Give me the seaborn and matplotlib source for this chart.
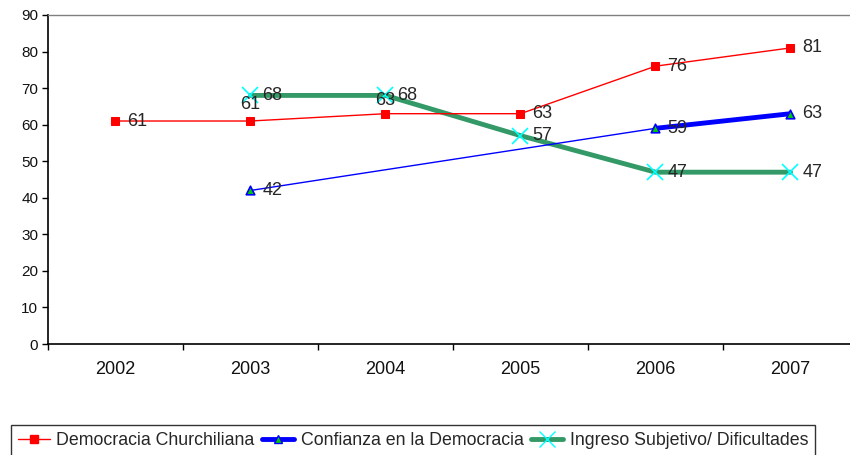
import numpy as np
import pandas as pd
import matplotlib
matplotlib.use("Agg")
import matplotlib.pyplot as plt
import seaborn as sns
from matplotlib.lines import Line2D

years = ["2002", "2003", "2004", "2005", "2006", "2007"]
churchiliana = [61, 61, 63, 63, 76, 81]
confianza = [np.nan, 42, np.nan, np.nan, 59, 63]
ingreso = [np.nan, 68, 68, 57, 47, 47]

names = ["Democracia Churchiliana", "Confianza en la Democracia",
         "Ingreso Subjetivo/ Dificultades"]

sns.set_theme(style="white")
plt.rcParams["font.family"] = ["Liberation Sans", "DejaVu Sans"]

W, H = 850, 455
fig = plt.figure(figsize=(W / 100, H / 100), dpi=100)
ax = fig.add_axes([48 / W, (H - 344) / H, 810 / W, 329 / H])

x = np.arange(len(years))
df = pd.DataFrame({"x": x, "churchiliana": churchiliana,
                   "confianza": confianza, "ingreso": ingreso})

RED = "#ff0000"
BLUE = "#0000ff"
GREEN = "#339966"
CYAN = "#00ffff"
LIME = "#00cc00"

# Ingreso Subjetivo (thick green line, cyan crosses)
d = df.dropna(subset=["ingreso"])
sns.lineplot(data=d, x="x", y="ingreso", ax=ax, color=GREEN, lw=3.5,
             marker="x", markersize=11, markeredgecolor=CYAN,
             markeredgewidth=1.2, zorder=3)

# Democracia Churchiliana (thin red line, square markers)
sns.lineplot(data=df, x="x", y="churchiliana", ax=ax, color=RED, lw=1,
             marker="s", markersize=5.5, markeredgecolor=RED,
             markerfacecolor=RED, zorder=4)

# Confianza: thin connector across missing years, thick on consecutive years
d = df.dropna(subset=["confianza"])
sns.lineplot(data=d, x="x", y="confianza", ax=ax, color=BLUE, lw=1,
             zorder=4)
ax.plot(df["x"], df["confianza"], color=BLUE, lw=3.5, zorder=4,
        solid_capstyle="butt")
sns.scatterplot(data=d, x="x", y="confianza", ax=ax, marker="^", s=38,
                color=LIME, edgecolor=BLUE, linewidth=1.2, zorder=5)

# Value labels: to the right of each point, two red ones lifted above
LABEL_SIZE = 13
above = {1: 12, 2: 9.5}
for xi, v in zip(x, churchiliana):
    off = (0, above[xi]) if xi in above else (8.6, 0)
    ax.annotate(f"{v:.0f}", (xi, v), xytext=off, textcoords="offset points",
                ha="center" if xi in above else "left", va="center",
                fontsize=LABEL_SIZE, zorder=6)
for series in (confianza, ingreso):
    for xi, v in zip(x, series):
        if not np.isnan(v):
            ax.annotate(f"{v:.0f}", (xi, v), xytext=(8.6, 0),
                        textcoords="offset points", ha="left", va="center",
                        fontsize=LABEL_SIZE, zorder=6)

# Axes: category ticks sit between years, labels centred on each year
ax.set_xlim(-0.5, 5.5)
ax.set_ylim(0, 90)
ax.set_yticks(range(0, 91, 10))
ax.set_xticks(np.arange(-0.5, 5.6, 1))
ax.set_xticklabels([])
ax.set_xticks(x, minor=True)
ax.set_xticklabels(years, minor=True)
ax.tick_params(axis="x", which="major", direction="out", length=4,
               width=1, color="black", bottom=True)
ax.tick_params(axis="x", which="minor", length=0, pad=12, labelsize=13,
               labelcolor="#111111")
ax.tick_params(axis="y", direction="out", length=4, width=1,
               color="black", left=True, labelsize=11, pad=3,
               labelcolor="#111111")
ax.set_xlabel("")
ax.set_ylabel("")
for s in ("left", "bottom"):
    ax.spines[s].set_color("black")
    ax.spines[s].set_linewidth(1.2)
ax.spines["top"].set_color("#808080")
ax.spines["top"].set_linewidth(1)
ax.spines["right"].set_visible(False)

handles = [
    Line2D([], [], color=RED, lw=1, marker="s", markersize=5.5),
    Line2D([], [], color=BLUE, lw=3.5, marker="^", markersize=6,
           markerfacecolor=LIME, markeredgecolor=BLUE),
    Line2D([], [], color=GREEN, lw=3.5, marker="x", markersize=11,
           markeredgecolor=CYAN),
]
leg = fig.legend(handles, names, loc="upper center", ncol=3,
                 bbox_to_anchor=(413 / W, 1 - 425 / H), fontsize=12.8,
                 frameon=True, fancybox=False, edgecolor="black",
                 handlelength=1.8, handletextpad=0.35, columnspacing=0.45,
                 borderpad=0.4, borderaxespad=0)
leg.get_frame().set_linewidth(1)

fig.savefig("out.png", dpi=100)
